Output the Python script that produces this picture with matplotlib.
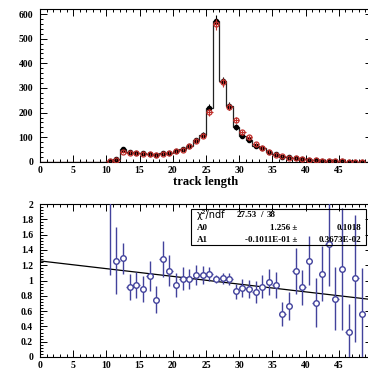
import matplotlib
matplotlib.use("Agg")
import matplotlib.pyplot as plt
import numpy as np
from matplotlib.ticker import MultipleLocator, FuncFormatter
from matplotlib.patches import Rectangle

# --- data --------------------------------------------------------------
bin_edges = np.arange(0, 51, 1)
bin_centers = np.arange(0.5, 50, 1)

# black histogram (bins 0..49)
black_counts = [0] * 10 + [3, 11, 53, 40, 37, 35, 32, 28, 38, 38,
                           44, 52, 66, 88, 110, 220, 571, 328, 227, 143,
                           107, 89, 66, 55, 42, 32, 22, 19, 15, 12,
                           8, 6, 4, 3, 2, 2, 1, 1, 1, 0]
# red points
red_counts = [0] * 10 + [2, 9, 42, 38, 36, 34, 31, 27, 34, 37,
                         43, 50, 64, 85, 106, 201, 558, 323, 224, 170,
                         120, 101, 73, 58, 41, 30, 25, 17, 15, 12,
                         9, 7, 4, 3, 2, 2, 1, 1, 1, 0]

# ratio panel
ratio_x = [10.5, 11.5, 12.5, 13.5, 14.5, 15.5, 16.5, 17.5, 18.5, 19.5,
           20.5, 21.5, 22.5, 23.5, 24.5, 25.5, 26.5, 27.5, 28.5, 29.5,
           30.5, 31.5, 32.5, 33.5, 34.5, 35.5, 36.5, 37.5, 38.5, 39.5,
           40.5, 41.5, 42.5, 43.5, 44.5, 45.5, 46.5, 47.5, 48.5]
ratio_y = [2.2, 1.26, 1.29, 0.92, 0.94, 0.89, 1.06, 0.75, 1.28, 1.13,
           0.94, 1.02, 1.02, 1.075, 1.075, 1.09, 1.02, 1.03, 1.02, 0.86,
           0.90, 0.89, 0.85, 0.92, 0.975, 0.945, 0.56, 0.67, 1.13, 0.91,
           1.26, 0.71, 1.09, 1.48, 0.76, 1.15, 0.33, 1.03, 0.56]
ratio_err = [1.13, 0.44, 0.20, 0.17, 0.17, 0.17, 0.20, 0.18, 0.23, 0.20,
             0.16, 0.15, 0.13, 0.13, 0.12, 0.09, 0.05, 0.07, 0.08, 0.10,
             0.12, 0.12, 0.14, 0.15, 0.17, 0.17, 0.16, 0.18, 0.30, 0.23,
             0.32, 0.32, 0.36, 0.55, 0.41, 0.80, 0.36, 0.83, 0.60]

# linear fit parameters
fit_A0 = 1.256
fit_A1 = -0.01011
fit_chi2 = "27.53"
fit_ndf = "38"

# --- style --------------------------------------------------------------
serif = "Liberation Serif"
blue = "#42429c"
red = "#c0302c"

plt.rcParams["font.family"] = serif
plt.rcParams["font.weight"] = "bold"
plt.rcParams["axes.linewidth"] = 0.8


def style_axis(ax, ymajor, yminor, yfmt):
    ax.set_xlim(0, 50)
    ax.xaxis.set_major_locator(MultipleLocator(5))
    ax.xaxis.set_minor_locator(MultipleLocator(1))
    ax.yaxis.set_major_locator(MultipleLocator(ymajor))
    ax.yaxis.set_minor_locator(MultipleLocator(yminor))
    ax.yaxis.set_major_formatter(FuncFormatter(yfmt))
    ax.tick_params(which="both", direction="in", top=True, right=True,
                   labelsize=7, width=0.7)
    ax.tick_params(which="major", length=5)
    ax.tick_params(which="minor", length=2.5)
    ax.tick_params(axis="x", pad=3)
    ax.tick_params(axis="y", pad=5)
    for lab in ax.get_xticklabels() + ax.get_yticklabels():
        lab.set_fontweight("bold")


fig = plt.figure(figsize=(3.68, 3.74), dpi=100)

# --- top panel: histograms ----------------------------------------------
ax1 = fig.add_axes([0.1087, 0.567, 0.902, 0.408])
black = np.array(black_counts, dtype=float)
redc = np.array(red_counts, dtype=float)

ax1.stairs(black, bin_edges, color="#222222", lw=0.9, zorder=2)

# red points (empty bins still draw their horizontal bar at zero)
ax1.errorbar(bin_centers, redc, xerr=0.5, fmt="none", ecolor=red,
             elinewidth=0.8, zorder=3)
nz = redc > 0
ax1.errorbar(bin_centers[nz], redc[nz], yerr=np.sqrt(redc[nz]), fmt="o",
             ms=3.6, mfc="none", mec=red, mew=0.9, ecolor=red,
             elinewidth=0.8, zorder=4)

nzb = black > 0
ax1.errorbar(bin_centers[nzb], black[nzb], yerr=np.sqrt(black[nzb]),
             fmt="o", ms=3.0, color="black", elinewidth=0.8, zorder=3)

ax1.set_ylim(0, 619)
style_axis(ax1, 100, 20, lambda v, p: "%d" % v)
ax1.set_xlabel("track length", fontsize=9, fontweight="bold", labelpad=1)

# --- bottom panel: ratio with fit ---------------------------------------
ax2 = fig.add_axes([0.1087, 0.0455, 0.902, 0.409])
ax2.errorbar(ratio_x, ratio_y, yerr=ratio_err, xerr=0.5, fmt="o",
             ms=4, mfc="white", mec=blue, mew=1.0, ecolor=blue,
             elinewidth=1.0, zorder=3)

fit_x = np.array([0, 50])
ax2.plot(fit_x, fit_A0 + fit_A1 * fit_x, color="black", lw=0.9, zorder=2)

ax2.set_ylim(0, 2)
style_axis(ax2, 0.2, 0.04, lambda v, p: "%g" % round(v, 2))

# stats box
ax2.add_patch(Rectangle((0.455, 0.732), 0.527, 0.235, transform=ax2.transAxes,
                        fill=False, edgecolor="black", lw=0.8, zorder=5))
ty = [0.928, 0.846, 0.768]
ax2.text(0.473, ty[0], "χ²/ndf", transform=ax2.transAxes, fontsize=7,
         family="DejaVu Sans", fontweight="normal", va="center", zorder=6)
ax2.text(0.593, ty[0], fit_chi2, transform=ax2.transAxes, fontsize=6.5,
         va="center", zorder=6)
ax2.text(0.666, ty[0], "/", transform=ax2.transAxes, fontsize=6.5,
         ha="center", va="center", zorder=6)
ax2.text(0.684, ty[0], fit_ndf, transform=ax2.transAxes, fontsize=6.5,
         va="center", zorder=6)

ax2.text(0.473, ty[1], "A0", transform=ax2.transAxes, fontsize=6.5,
         va="center", zorder=6)
ax2.text(0.774, ty[1], "%.3f ±" % fit_A0, transform=ax2.transAxes,
         fontsize=6.5, ha="right", va="center", zorder=6)
ax2.text(0.967, ty[1], "0.1018", transform=ax2.transAxes, fontsize=6.5,
         ha="right", va="center", zorder=6)

ax2.text(0.473, ty[2], "A1", transform=ax2.transAxes, fontsize=6.5,
         va="center", zorder=6)
ax2.text(0.774, ty[2], "-0.1011E-01 ±", transform=ax2.transAxes,
         fontsize=6.5, ha="right", va="center", zorder=6)
ax2.text(0.967, ty[2], "0.3673E-02", transform=ax2.transAxes, fontsize=6.5,
         ha="right", va="center", zorder=6)

fig.savefig("out.png", dpi=100)
